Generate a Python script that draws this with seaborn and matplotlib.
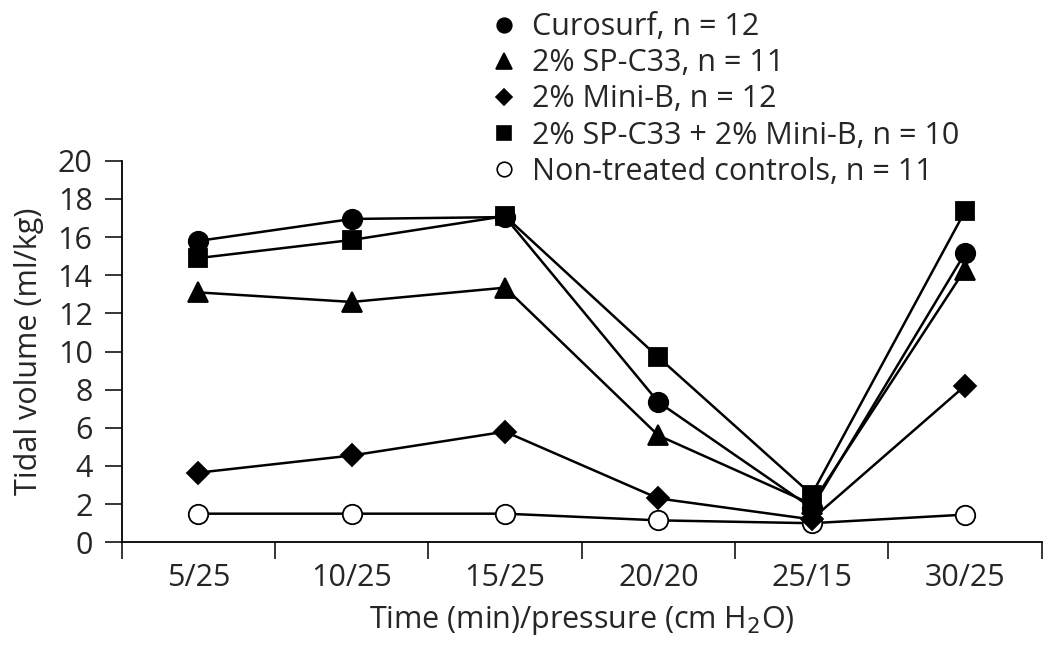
import numpy as np
import pandas as pd
import seaborn as sns
import matplotlib.pyplot as plt
from matplotlib.lines import Line2D

# Data
time_pressure = ["5/25", "10/25", "15/25", "20/20", "25/15", "30/25"]
curosurf = [15.8, 16.95, 17.05, 7.35, 1.8, 15.15]
spc33 = [13.1, 12.6, 13.35, 5.6, 2.0, 14.3]
minib = [3.65, 4.55, 5.8, 2.3, 1.2, 8.2]
spc33_minib = [14.9, 15.85, 17.1, 9.7, 2.5, 17.35]
controls = [1.5, 1.5, 1.5, 1.15, 1.0, 1.45]

labels = [
    "Curosurf, n = 12",
    "2% SP-C33, n = 11",
    "2% Mini-B, n = 12",
    "2% SP-C33 + 2% Mini-B, n = 10",
    "Non-treated controls, n = 11",
]

sns.set_style("ticks")
plt.rcParams['font.family'] = ['Open Sans', 'DejaVu Sans']
FS = 22

fig = plt.figure(figsize=(10.5, 6.51), dpi=100)
ax = fig.add_axes([0.116, 0.167, 0.876, 0.586])

x = np.arange(len(time_pressure))

# series: (values, marker, face colour, size, legend size)
series = {
    labels[4]: (controls, "o", "white", 14, 10.5),
    labels[2]: (minib, "D", "black", 11.5, 8),
    labels[1]: (spc33, "^", "black", 15, 11),
    labels[0]: (curosurf, "o", "black", 14, 10.5),
    labels[3]: (spc33_minib, "s", "black", 13.5, 9.5),
}

for name, (vals, mk, fc, ms, _) in series.items():
    sns.lineplot(x=x, y=vals, ax=ax, color="black", linewidth=1.8,
                 marker=mk, markersize=ms, markerfacecolor=fc,
                 markeredgecolor="black", markeredgewidth=1.3)

ax.set_xlim(-0.5, 5.5)
ax.set_ylim(0, 20)
ax.set_yticks(np.arange(0, 21, 2))
ax.set_xticks(np.arange(-0.5, 5.6, 1))
ax.set_xticklabels([])
ax.set_xticks(x, minor=True)
ax.set_xticklabels(time_pressure, minor=True)
ax.tick_params(axis="x", which="major", length=12, width=1.3, direction="out")
ax.tick_params(axis="x", which="minor", length=0, pad=15, labelsize=FS)
ax.tick_params(axis="y", length=12, width=1.3, direction="out", labelsize=FS, pad=9)
for s in ["left", "bottom"]:
    ax.spines[s].set_linewidth(1.3)
    ax.spines[s].set_color("black")
sns.despine(ax=ax)

ax.set_xlabel("Time (min)/pressure (cm H$_2$O)", fontsize=FS, labelpad=8)
ax.set_ylabel("Tidal volume (ml/kg)", fontsize=FS, labelpad=10)

handles = []
for name in labels:
    vals, mk, fc, ms, lms = series[name]
    handles.append(Line2D([], [], linestyle="none", marker=mk, markersize=lms,
                          markerfacecolor=fc, markeredgecolor="black",
                          markeredgewidth=1.2))
fig.legend(handles, labels, loc="upper left", bbox_to_anchor=(0.448, 1.014),
           frameon=False, fontsize=FS, handletextpad=0.5, labelspacing=0.2,
           borderpad=0.2, handlelength=0.8)

fig.savefig("out.png", dpi=100)
